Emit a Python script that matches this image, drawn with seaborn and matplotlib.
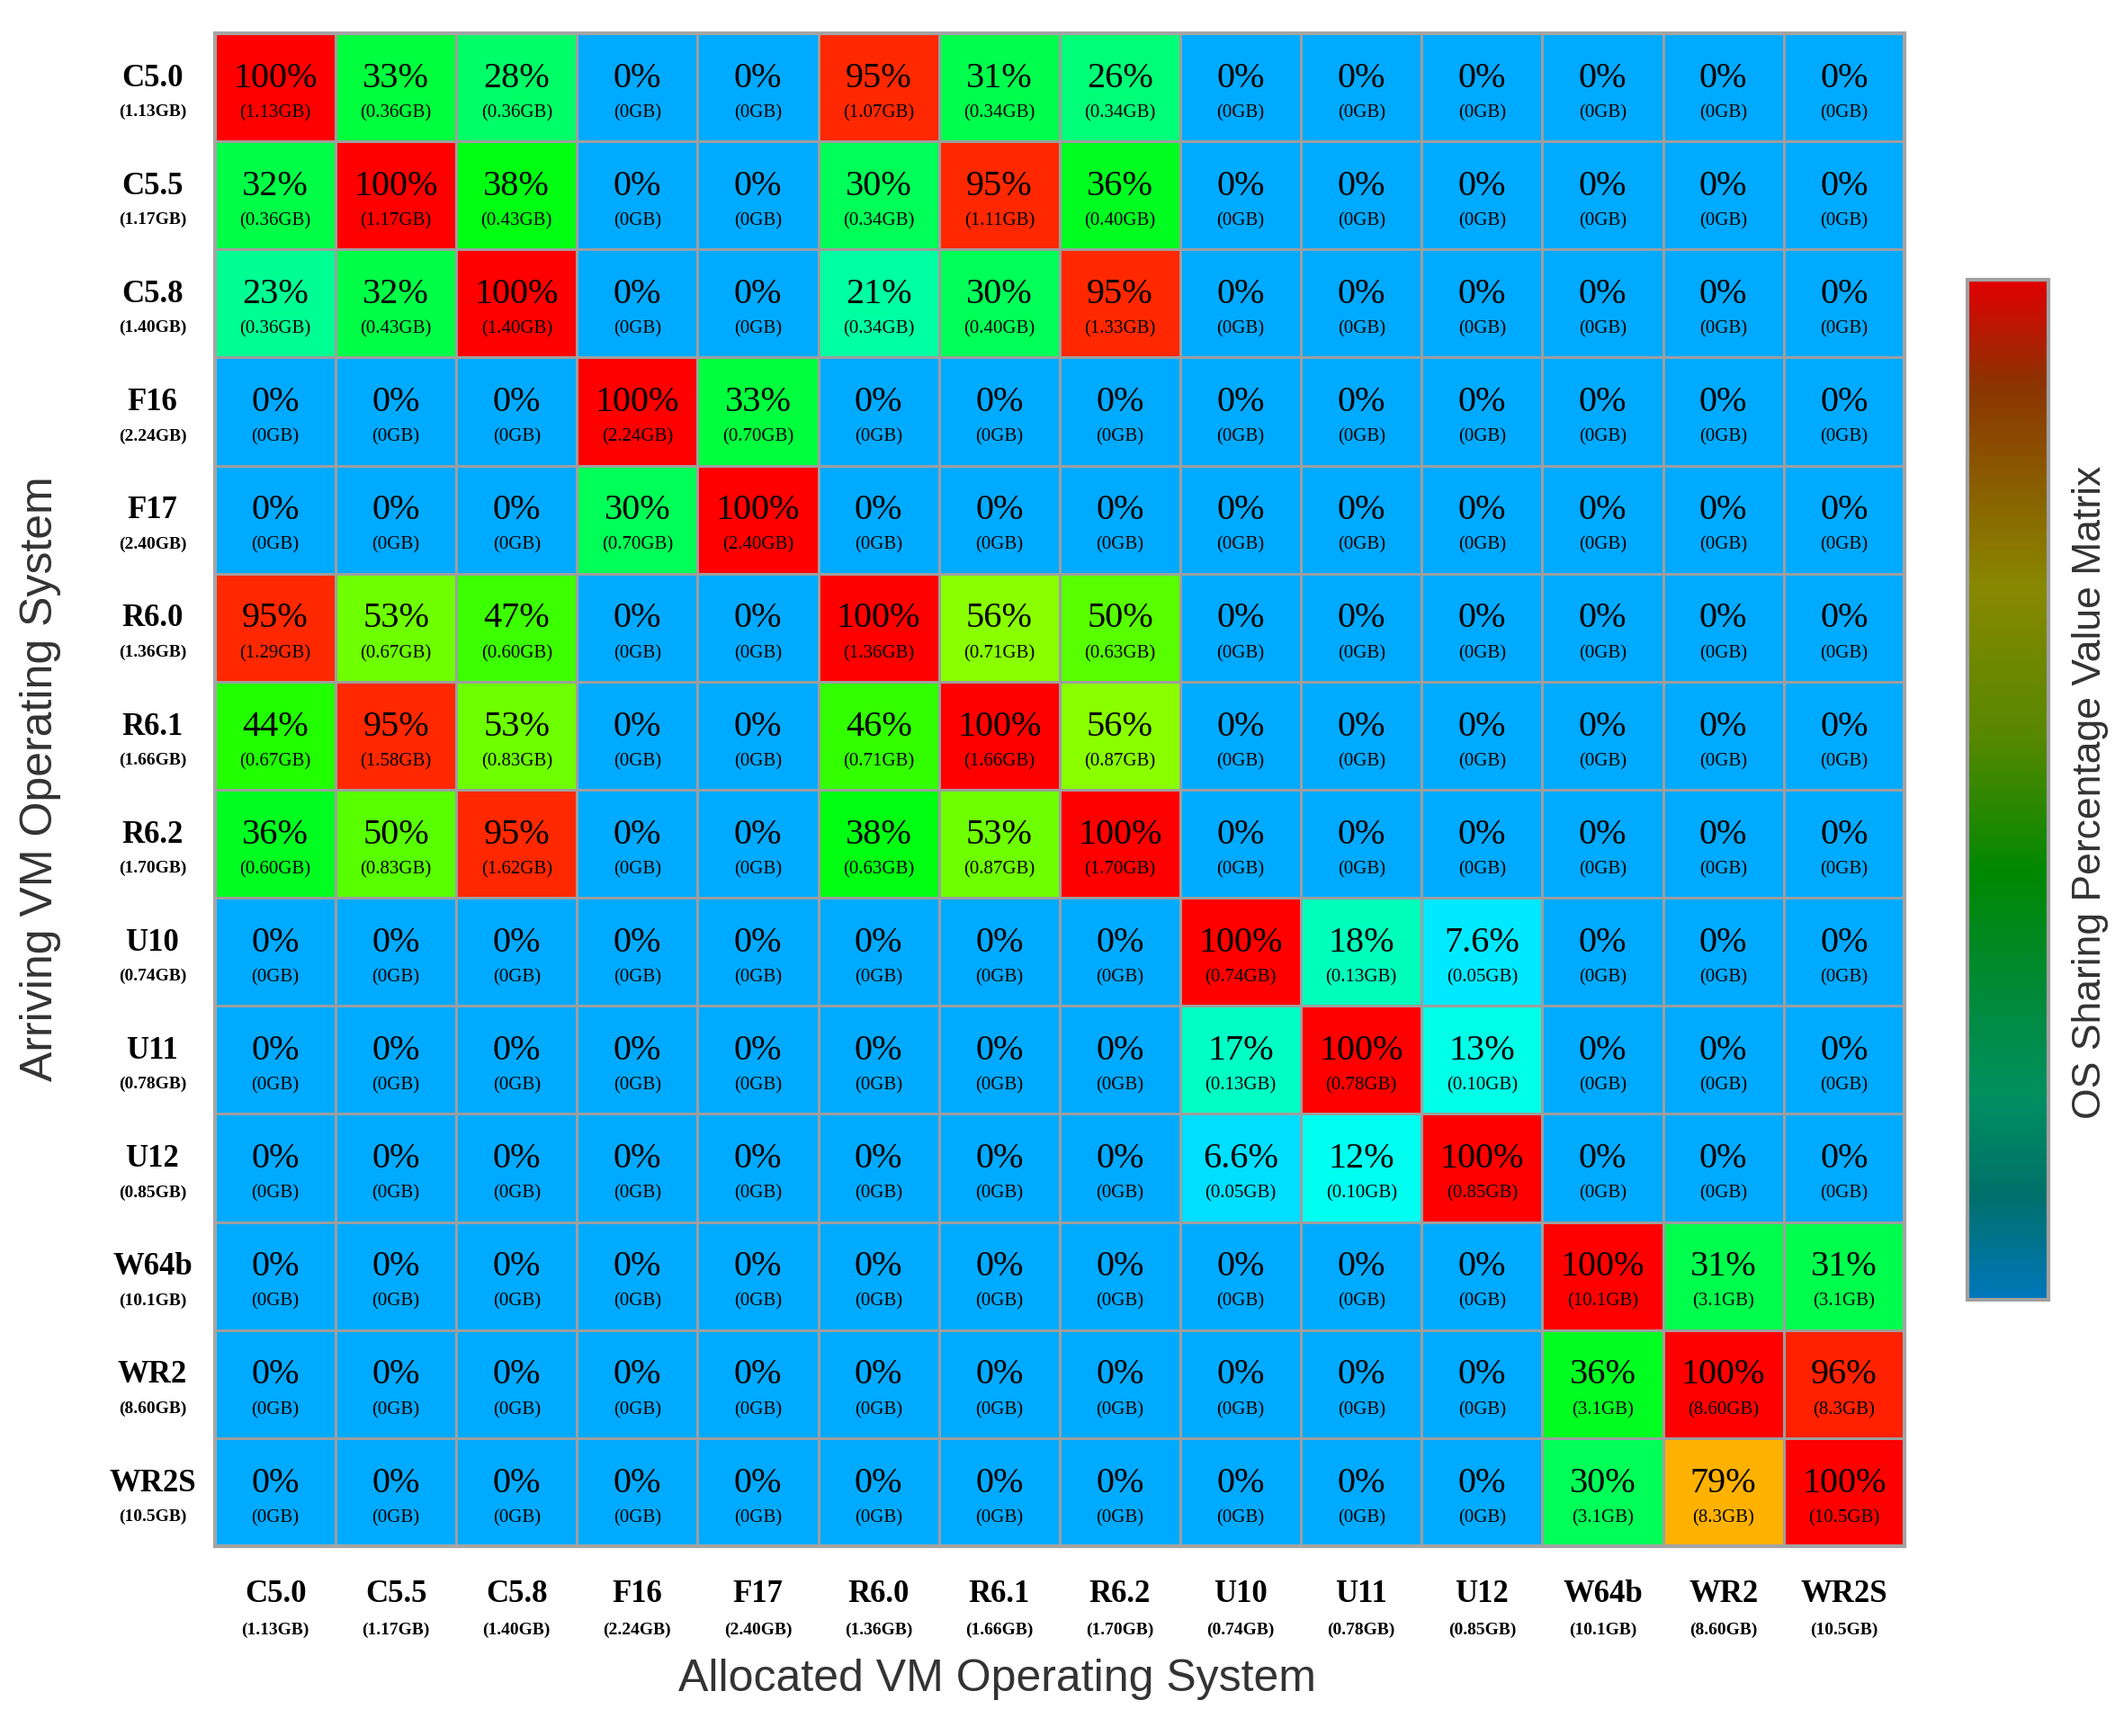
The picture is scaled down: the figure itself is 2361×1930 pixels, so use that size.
import numpy as np
import matplotlib
matplotlib.use("Agg")
import matplotlib.pyplot as plt
import matplotlib.transforms as mtransforms
from matplotlib.colors import LinearSegmentedColormap, hsv_to_rgb
import seaborn as sns

# OS names and image sizes
os_names = ["C5.0", "C5.5", "C5.8", "F16", "F17", "R6.0", "R6.1", "R6.2",
            "U10", "U11", "U12", "W64b", "WR2", "WR2S"]
os_sizes = ["1.13GB", "1.17GB", "1.40GB", "2.24GB", "2.40GB", "1.36GB", "1.66GB",
            "1.70GB", "0.74GB", "0.78GB", "0.85GB", "10.1GB", "8.60GB", "10.5GB"]

# sharing percentage (rows = arriving VM, cols = allocated VM)
share_pct = [
    [100, 33, 28, 0, 0, 95, 31, 26, 0, 0, 0, 0, 0, 0],
    [32, 100, 38, 0, 0, 30, 95, 36, 0, 0, 0, 0, 0, 0],
    [23, 32, 100, 0, 0, 21, 30, 95, 0, 0, 0, 0, 0, 0],
    [0, 0, 0, 100, 33, 0, 0, 0, 0, 0, 0, 0, 0, 0],
    [0, 0, 0, 30, 100, 0, 0, 0, 0, 0, 0, 0, 0, 0],
    [95, 53, 47, 0, 0, 100, 56, 50, 0, 0, 0, 0, 0, 0],
    [44, 95, 53, 0, 0, 46, 100, 56, 0, 0, 0, 0, 0, 0],
    [36, 50, 95, 0, 0, 38, 53, 100, 0, 0, 0, 0, 0, 0],
    [0, 0, 0, 0, 0, 0, 0, 0, 100, 18, 7.6, 0, 0, 0],
    [0, 0, 0, 0, 0, 0, 0, 0, 17, 100, 13, 0, 0, 0],
    [0, 0, 0, 0, 0, 0, 0, 0, 6.6, 12, 100, 0, 0, 0],
    [0, 0, 0, 0, 0, 0, 0, 0, 0, 0, 0, 100, 31, 31],
    [0, 0, 0, 0, 0, 0, 0, 0, 0, 0, 0, 36, 100, 96],
    [0, 0, 0, 0, 0, 0, 0, 0, 0, 0, 0, 30, 79, 100],
]

# shared size in GB
share_gb = [
    ["1.13", "0.36", "0.36", "0", "0", "1.07", "0.34", "0.34", "0", "0", "0", "0", "0", "0"],
    ["0.36", "1.17", "0.43", "0", "0", "0.34", "1.11", "0.40", "0", "0", "0", "0", "0", "0"],
    ["0.36", "0.43", "1.40", "0", "0", "0.34", "0.40", "1.33", "0", "0", "0", "0", "0", "0"],
    ["0", "0", "0", "2.24", "0.70", "0", "0", "0", "0", "0", "0", "0", "0", "0"],
    ["0", "0", "0", "0.70", "2.40", "0", "0", "0", "0", "0", "0", "0", "0", "0"],
    ["1.29", "0.67", "0.60", "0", "0", "1.36", "0.71", "0.63", "0", "0", "0", "0", "0", "0"],
    ["0.67", "1.58", "0.83", "0", "0", "0.71", "1.66", "0.87", "0", "0", "0", "0", "0", "0"],
    ["0.60", "0.83", "1.62", "0", "0", "0.63", "0.87", "1.70", "0", "0", "0", "0", "0", "0"],
    ["0", "0", "0", "0", "0", "0", "0", "0", "0.74", "0.13", "0.05", "0", "0", "0"],
    ["0", "0", "0", "0", "0", "0", "0", "0", "0.13", "0.78", "0.10", "0", "0", "0"],
    ["0", "0", "0", "0", "0", "0", "0", "0", "0.05", "0.10", "0.85", "0", "0", "0"],
    ["0", "0", "0", "0", "0", "0", "0", "0", "0", "0", "0", "10.1", "3.1", "3.1"],
    ["0", "0", "0", "0", "0", "0", "0", "0", "0", "0", "0", "3.1", "8.60", "8.3"],
    ["0", "0", "0", "0", "0", "0", "0", "0", "0", "0", "0", "3.1", "8.3", "10.5"],
]

serif = "Liberation Serif"
sans = "Liberation Sans"

# cell colours: hue sweeps from sky blue (0%) to red (100%)
cell_cmap = LinearSegmentedColormap.from_list(
    "hue", [hsv_to_rgb((h / 360, 1, 1)) for h in np.linspace(200, 0, 21)])
# colour bar drawn with a darker ramp as in the original
bar_cmap = LinearSegmentedColormap.from_list("bar", [
    (0.0, "#0077bb"), (0.1, "#00706a"), (0.2, "#009060"), (0.3, "#008a38"),
    (0.42, "#008800"), (0.55, "#558800"), (0.7, "#888800"), (0.9, "#8b3300"),
    (1.0, "#e00000")])

df = np.array(share_pct, dtype=float)

fig = plt.figure(figsize=(23.61, 19.31), dpi=100)
ax = fig.add_axes([0.1012, 0.1093, 0.7954, 0.8710])

sns.heatmap(df, ax=ax, cmap=cell_cmap, vmin=0, vmax=100, cbar=False,
            linewidths=2, linecolor="#9e9e9e", square=False)
for sp in ax.spines.values():
    sp.set_visible(True)
    sp.set_color("#a4a4a4")
    sp.set_linewidth(3)
ax.set_xticks([])
ax.set_yticks([])

for i in range(len(os_names)):
    for j in range(len(os_names)):
        ax.text(j + 0.5, i + 0.41, f"{share_pct[i][j]:g}%", ha="center", va="center",
                fontsize=29, family=serif, color="black")
        ax.text(j + 0.5, i + 0.73, f"({share_gb[i][j]}GB)", ha="center", va="center",
                fontsize=15, family=serif, color="black")

# row labels (left) and column labels (bottom)
row_tr = mtransforms.blended_transform_factory(ax.transAxes, ax.transData)
col_tr = mtransforms.blended_transform_factory(ax.transData, ax.transAxes)
for k, (name, size) in enumerate(zip(os_names, os_sizes)):
    ax.text(-0.037, k + 0.41, name, transform=row_tr, ha="center", va="center",
            fontsize=25, family=serif, fontweight="bold")
    ax.text(-0.037, k + 0.72, f"({size})", transform=row_tr, ha="center", va="center",
            fontsize=14, family=serif, fontweight="bold")
    ax.text(k + 0.5, -0.031, name, transform=col_tr, ha="center", va="center",
            fontsize=25, family=serif, fontweight="bold")
    ax.text(k + 0.5, -0.055, f"({size})", transform=col_tr, ha="center", va="center",
            fontsize=14, family=serif, fontweight="bold")

fig.text(1108 / 2361, 1 - 1867 / 1931, "Allocated VM Operating System",
         ha="center", va="center", fontsize=36, family=sans, color="#333333")
fig.text(45 / 2361, 1 - 866 / 1931, "Arriving VM Operating System", rotation=90,
         ha="center", va="center", fontsize=36, family=sans, color="#333333")

# colour bar
cax = fig.add_axes([2187 / 2361, 1 - 1446 / 1931, 90 / 2361, 1134 / 1931])
sm = plt.cm.ScalarMappable(cmap=bar_cmap, norm=plt.Normalize(0, 100))
cb = fig.colorbar(sm, cax=cax)
cb.set_ticks([])
cb.outline.set_edgecolor("#a0a0a0")
cb.outline.set_linewidth(3)
fig.text(2324 / 2361, 1 - 881 / 1931, "OS Sharing Percentage Value Matrix", rotation=90,
         ha="center", va="center", fontsize=32, family=sans, color="#333333")

fig.savefig("out.png", dpi=100, facecolor="white")
